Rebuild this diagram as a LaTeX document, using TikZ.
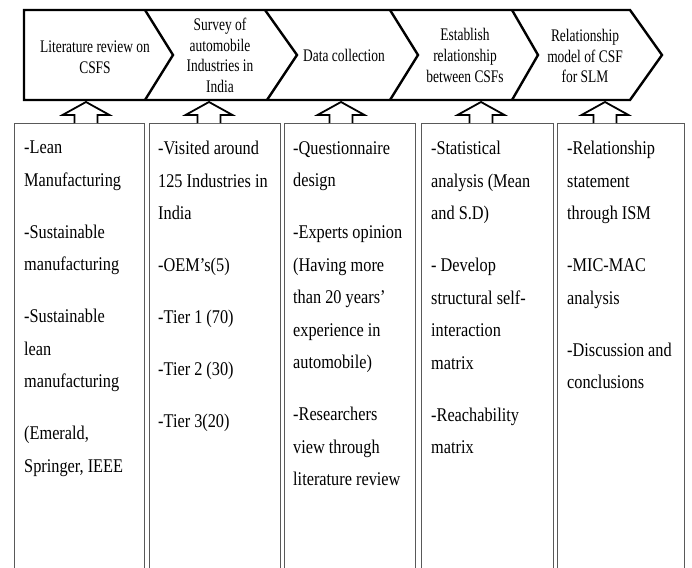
\documentclass[tikz,border=0pt]{standalone}
\usepackage{fontspec}
\setmainfont{Liberation Serif}[FakeStretch=0.84]
\newfontfamily\headfont{Liberation Serif}[FakeStretch=0.76]
\usetikzlibrary{calc}

\begin{document}
\begin{tikzpicture}[x=1pt, y=1pt,
  head/.style={font=\headfont\fontsize{17.7}{20.7}\selectfont, align=center,
               inner sep=0pt},
  col/.style={draw=gray!70!black, line width=0.9pt, minimum width=#1,
              minimum height=480pt, anchor=north west, inner sep=0pt},
  body/.style={font=\fontsize{19.4}{32.5}\selectfont, align=left,
               anchor=north west, inner sep=0pt},
  chev/.style={line width=2.4pt, line join=miter},
  uparrow/.style={draw, line width=1.8pt, fill=white}
]
\clip (0,0) rectangle (692,-567);

%% Process band (chevrons)
\draw[chev] (24,-10) -- (630,-10) -- (662,-55) -- (630,-100) -- (24,-100) -- cycle;
\draw[chev] (145,-10) -- (173,-55) -- (145,-100);
\draw[chev] (265,-10) -- (297,-55) -- (267,-100);
\draw[chev] (390,-10) -- (418,-55) -- (390,-100);
\draw[chev] (512,-10) -- (538,-55) -- (512,-100);

\node[head] (lit)  at (95,-57)    {Literature review on\\CSFS};
\node[head] (surv) at (220,-55.5) {Survey of\\automobile\\Industries in\\India};
\node[head] (data) at (344,-55.5) {Data collection};
\node[head] (est)  at (465,-55.5) {Establish\\relationship\\between CSFs};
\node[head] (rel)  at (585,-56)   {Relationship\\model of CSF\\for SLM};

%% Columns below
\node[col=130pt] (litb)  at (14,-123)  {};
\node[col=131pt] (survb) at (149,-123) {};
\node[col=131pt] (datab) at (284,-123) {};
\node[col=132pt] (estb)  at (421,-123) {};
\node[col=127pt] (relb)  at (557,-123) {};

\node[body] (littx) at ($(litb.north west)+(10,-18)$)
  {-Lean\\Manufacturing\\[19.5pt]-Sustainable\\manufacturing\\[19.5pt]%
   -Sustainable\\lean\\manufacturing\\[19.5pt](Emerald,\\Springer, IEEE};
\node[body] (survtx) at ($(survb.north west)+(9,-18)$)
  {-Visited around\\125 Industries in\\India\\[19.5pt]-OEM’s(5)\\[19.5pt]%
   -Tier 1 (70)\\[19.5pt]-Tier 2 (30)\\[19.5pt]-Tier 3(20)};
\node[body] (datatx) at ($(datab.north west)+(9,-18)$)
  {-Questionnaire\\design\\[19.5pt]-Experts opinion\\(Having more\\than 20 years’\\%
   experience in\\automobile)\\[19.5pt]-Researchers\\view through\\literature review};
\node[body] (esttx) at ($(estb.north west)+(10,-18)$)
  {-Statistical\\analysis (Mean\\and S.D)\\[19.5pt]- Develop\\structural self-\\%
   interaction\\matrix\\[19.5pt]-Reachability\\matrix};
\node[body] (reltx) at ($(relb.north west)+(10,-18)$)
  {-Relationship\\statement\\through ISM\\[19.5pt]-MIC-MAC\\analysis\\[19.5pt]%
   -Discussion and\\conclusions};

%% Hollow up arrows into the band
\foreach \x in {86,209,341,481,605}
  \draw[uparrow] (\x-11.5,-123) -- ++(0,8) -- ++(-12,0) -- (\x,-102)
    -- (\x+23.5,-115) -- ++(-12,0) -- ++(0,-8);

\end{tikzpicture}
\end{document}
